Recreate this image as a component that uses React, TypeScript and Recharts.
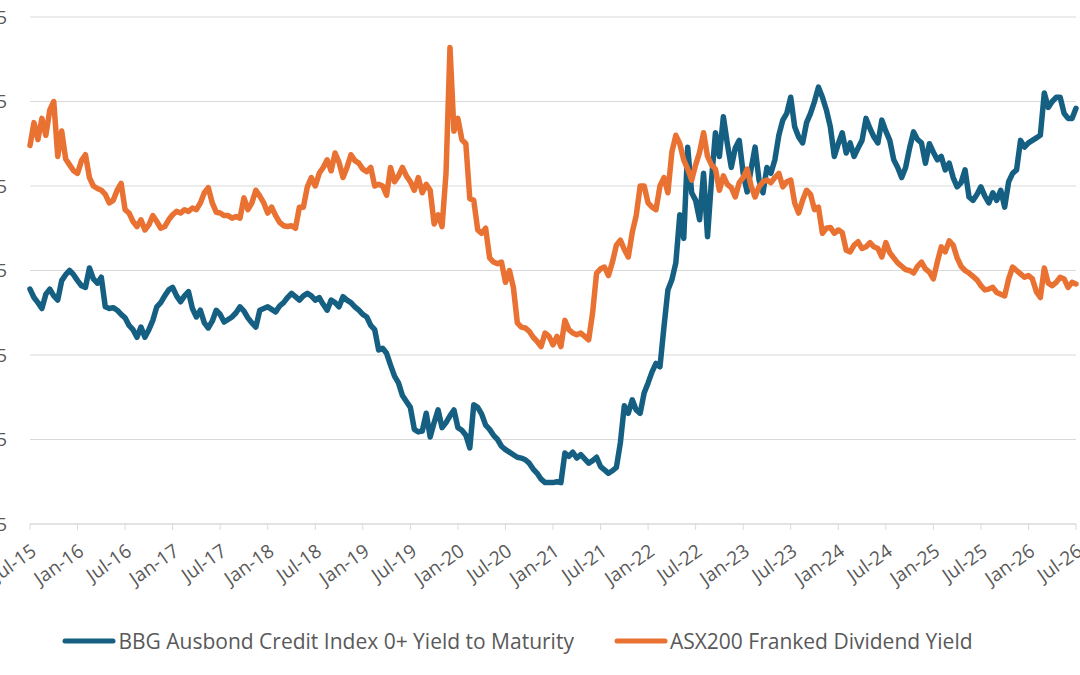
import { LineChart, Line, XAxis, YAxis, CartesianGrid, Legend } from "recharts";

const BLUE = "#156082";
const ORANGE = "#E97132";
const TEXT = "#595959";
const GRID = "#d9d9d9";
const FONT = "'Open Sans', sans-serif";

// half-monthly readings, Jul-15 .. Jul-26
const creditYield: number[] = [
  3.28, 3.18, 3.12, 3.05, 3.22, 3.28, 3.2, 3.15, 3.38, 3.45, 3.5, 3.45,
  3.38, 3.32, 3.3, 3.53, 3.4, 3.35, 3.42, 3.07, 3.05, 3.06, 3.03, 2.98,
  2.94, 2.85, 2.8, 2.71, 2.83, 2.71, 2.8, 2.91, 3.07, 3.12, 3.2, 3.27,
  3.3, 3.2, 3.13, 3.2, 3.25, 3.05, 2.95, 3.03, 2.88, 2.82, 2.9, 3.03,
  2.98, 2.89, 2.92, 2.95, 3.0, 3.07, 3.02, 2.94, 2.88, 2.83, 3.03, 3.05,
  3.07, 3.04, 3.01, 3.08, 3.12, 3.18, 3.23, 3.19, 3.15, 3.2, 3.23, 3.2,
  3.15, 3.18, 3.1, 3.03, 3.15, 3.12, 3.07, 3.19, 3.15, 3.12, 3.07, 3.03,
  2.98, 2.95, 2.85, 2.8, 2.56, 2.58, 2.52, 2.38, 2.25, 2.17, 2.02, 1.95,
  1.88, 1.62, 1.59, 1.6, 1.81, 1.53, 1.7, 1.85, 1.64, 1.7, 1.78, 1.85,
  1.64, 1.61, 1.55, 1.4, 1.91, 1.88, 1.8, 1.67, 1.62, 1.55, 1.5, 1.42,
  1.38, 1.35, 1.32, 1.29, 1.28, 1.26, 1.22, 1.15, 1.1, 1.03, 0.99, 0.99,
  0.99, 1.0, 0.99, 1.34, 1.3, 1.35, 1.28, 1.32, 1.27, 1.22, 1.25, 1.29,
  1.18, 1.14, 1.1, 1.13, 1.17, 1.46, 1.9, 1.81, 1.97, 1.85, 1.81, 2.05,
  2.17, 2.3, 2.4, 2.36, 2.83, 3.27, 3.39, 3.59, 4.16, 3.88, 4.96, 4.42,
  4.33, 4.1, 4.65, 3.9, 4.57, 5.13, 4.85, 5.32, 5.0, 4.72, 4.95, 5.04,
  4.65, 4.43, 4.7, 4.96, 4.57, 4.42, 4.72, 4.65, 4.81, 5.1, 5.28, 5.36,
  5.55, 5.2, 5.08, 5.01, 5.25, 5.36, 5.5, 5.67, 5.55, 5.4, 5.2, 4.85,
  5.0, 5.13, 4.89, 5.01, 4.85, 4.95, 5.04, 5.3, 5.18, 5.08, 5.01, 5.28,
  5.15, 5.04, 4.81, 4.72, 4.6, 4.72, 4.95, 5.14, 5.05, 5.01, 4.77, 5.0,
  4.9, 4.81, 4.85, 4.69, 4.77, 4.6, 4.49, 4.54, 4.69, 4.37, 4.33, 4.4,
  4.49, 4.38, 4.3, 4.42, 4.33, 4.45, 4.25, 4.55, 4.65, 4.69, 5.04, 4.96,
  5.01, 5.04, 5.07, 5.1, 5.6, 5.43, 5.5, 5.55, 5.55, 5.36, 5.3, 5.3,
  5.42,
];

const dividendYield: number[] = [
  4.98, 5.25, 5.05, 5.3, 5.1, 5.4, 5.5, 4.85, 5.15, 4.82, 4.75, 4.68,
  4.65, 4.8, 4.87, 4.6, 4.5, 4.47, 4.45, 4.4, 4.3, 4.33, 4.45, 4.53,
  4.22, 4.18, 4.08, 4.02, 4.1, 3.98, 4.04, 4.15, 4.08, 4.0, 4.02, 4.1,
  4.16, 4.2, 4.18, 4.22, 4.2, 4.24, 4.22, 4.3, 4.42, 4.48, 4.3, 4.19,
  4.18, 4.15, 4.15, 4.12, 4.14, 4.12, 4.36, 4.22, 4.3, 4.45, 4.38, 4.3,
  4.18, 4.25, 4.15, 4.07, 4.03, 4.02, 4.03, 4.0, 4.25, 4.25, 4.49, 4.6,
  4.5, 4.65, 4.72, 4.81, 4.68, 4.89, 4.78, 4.6, 4.72, 4.87, 4.8, 4.77,
  4.7, 4.67, 4.72, 4.5, 4.52, 4.5, 4.39, 4.72, 4.55, 4.62, 4.72, 4.62,
  4.55, 4.45, 4.6, 4.42, 4.52, 4.45, 4.05, 4.16, 4.02, 4.65, 6.14, 5.15,
  5.3, 5.05, 5.0, 4.35, 4.33, 3.98, 3.94, 4.0, 3.65, 3.6, 3.58, 3.6,
  3.36, 3.5, 3.3, 2.88, 2.83, 2.82, 2.78, 2.71, 2.66, 2.6, 2.76, 2.72,
  2.62, 2.72, 2.6, 2.91, 2.8, 2.76, 2.74, 2.76, 2.72, 2.68, 3.0, 3.47,
  3.52, 3.54, 3.44, 3.6, 3.8, 3.86, 3.75, 3.66, 3.95, 4.15, 4.5, 4.5,
  4.3, 4.25, 4.22, 4.5, 4.6, 4.42, 4.9, 5.1, 5.0, 4.81, 4.7, 4.57,
  4.75, 4.9, 5.13, 4.85, 4.75, 4.7, 4.45, 4.62, 4.52, 4.48, 4.37, 4.54,
  4.6, 4.7, 4.5, 4.37, 4.49, 4.55, 4.57, 4.54, 4.6, 4.65, 4.49, 4.55,
  4.57, 4.3, 4.18, 4.33, 4.45, 4.4, 4.22, 4.25, 3.94, 4.0, 4.01, 3.94,
  3.98, 3.95, 3.74, 3.72, 3.8, 3.84, 3.76, 3.78, 3.83, 3.78, 3.76, 3.66,
  3.83, 3.71, 3.65, 3.59, 3.55, 3.51, 3.5, 3.47, 3.55, 3.6, 3.52, 3.48,
  3.4, 3.6, 3.78, 3.72, 3.85, 3.8, 3.65, 3.55, 3.5, 3.47, 3.43, 3.39,
  3.32, 3.27, 3.28, 3.3, 3.24, 3.22, 3.2, 3.4, 3.54, 3.5, 3.46, 3.42,
  3.44, 3.4, 3.25, 3.18, 3.53, 3.35, 3.32, 3.36, 3.42, 3.4, 3.3, 3.36,
  3.34,
];

const tickLabels = [
  "Jul-15", "Jan-16", "Jul-16", "Jan-17", "Jul-17", "Jan-18", "Jul-18",
  "Jan-19", "Jul-19", "Jan-20", "Jul-20", "Jan-21", "Jul-21", "Jan-22",
  "Jul-22", "Jan-23", "Jul-23", "Jan-24", "Jul-24", "Jan-25", "Jul-25",
  "Jan-26", "Jul-26",
];

const yTicks = [0.5, 1.5, 2.5, 3.5, 4.5, 5.5, 6.5];

const seriesNames = {
  credit: "BBG Ausbond Credit Index 0+ Yield to Maturity",
  dividend: "ASX200 Franked Dividend Yield",
};

const data = creditYield.map((credit, i) => ({
  month: i / 2,
  credit,
  dividend: dividendYield[i],
}));

const xTicks = tickLabels.map((_, i) => i * 6);

function ChartLegend() {
  const items = [
    { name: seriesNames.credit, color: BLUE },
    { name: seriesNames.dividend, color: ORANGE },
  ];
  return (
    <div
      style={{
        display: "flex",
        justifyContent: "center",
        alignItems: "center",
        height: 40,
        gap: 40,
        paddingRight: 15,
        fontFamily: FONT,
        fontSize: 21,
        color: TEXT,
      }}
    >
      {items.map((it) => (
        <div key={it.name} style={{ display: "flex", alignItems: "center" }}>
          <svg width={54} height={8}>
            <line x1={3} y1={4} x2={51} y2={4} stroke={it.color} strokeWidth={5} strokeLinecap="round" />
          </svg>
          <span style={{ marginLeft: 2, whiteSpace: "nowrap" }}>{it.name}</span>
        </div>
      ))}
    </div>
  );
}

export default function App() {
  return (
    <div style={{ position: "absolute", left: -30, top: 0 }}>
      <LineChart
        width={1110}
        height={675}
        data={data}
        margin={{ top: 17, right: 4, left: 0, bottom: 14 }}
      >
        <CartesianGrid vertical={false} stroke={GRID} strokeWidth={1} />
        <XAxis
          dataKey="month"
          type="number"
          domain={[0, 132]}
          ticks={xTicks}
          interval={0}
          tickFormatter={(v: number) => tickLabels[Math.round(v / 6)]}
          height={97}
          angle={-35}
          textAnchor="end"
          tickSize={6}
          tickMargin={13}
          stroke={GRID}
          tick={{ fill: TEXT, fontSize: 19, fontFamily: FONT }}
        />
        <YAxis
          domain={[0.5, 6.5]}
          ticks={yTicks}
          width={60}
          axisLine={false}
          tickLine={false}
          tickSize={0}
          tickMargin={23}
          tickFormatter={(v: number) => v.toFixed(1)}
          tick={{ fill: TEXT, fontSize: 19, fontFamily: FONT }}
        />
        <Legend verticalAlign="bottom" height={40} content={<ChartLegend />} wrapperStyle={{ left: 0, width: 1110 }} />
        <Line
          type="linear"
          dataKey="credit"
          name={seriesNames.credit}
          stroke={BLUE}
          strokeWidth={5.5}
          strokeLinejoin="round"
          strokeLinecap="round"
          dot={false}
          isAnimationActive={false}
        />
        <Line
          type="linear"
          dataKey="dividend"
          name={seriesNames.dividend}
          stroke={ORANGE}
          strokeWidth={5.5}
          strokeLinejoin="round"
          strokeLinecap="round"
          dot={false}
          isAnimationActive={false}
        />
      </LineChart>
    </div>
  );
}
